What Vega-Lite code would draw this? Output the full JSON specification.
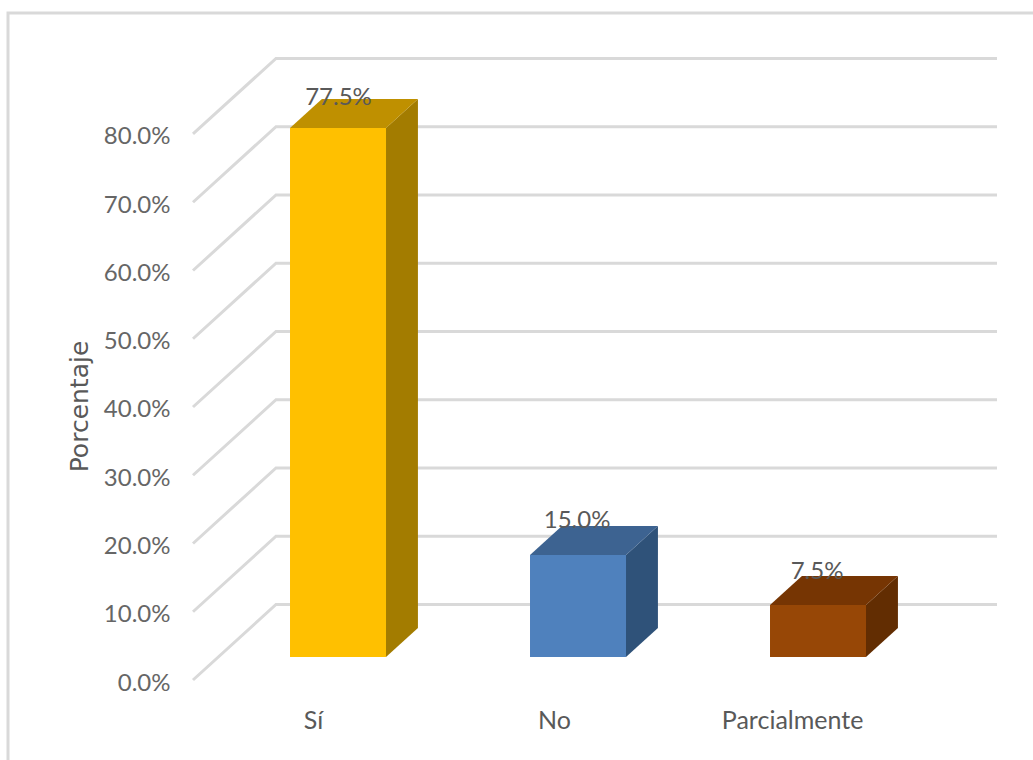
{
"$schema":"https://vega.github.io/schema/vega-lite/v6.json",
"width":804,"height":660,
"autosize":{"type":"none"},
"padding":{"left":193,"top":40,"right":36,"bottom":60},
"background":"white",
"view":{"stroke":null},
"config":{"font":"Lato, sans-serif"},
"datasets":{
"frame":[{"x":-1.375,"x2":2.93,"y":97.73,"y2":-13.2}],
"grid":[
{"v":0,"x":-0.6042,"y":0},{"v":0,"x":-0.2583,"y":11.07},{"v":0,"x":2.7458,"y":11.07},
{"v":10,"x":-0.6042,"y":10},{"v":10,"x":-0.2583,"y":21.07},{"v":10,"x":2.7458,"y":21.07},
{"v":20,"x":-0.6042,"y":20},{"v":20,"x":-0.2583,"y":31.07},{"v":20,"x":2.7458,"y":31.07},
{"v":30,"x":-0.6042,"y":30},{"v":30,"x":-0.2583,"y":41.07},{"v":30,"x":2.7458,"y":41.07},
{"v":40,"x":-0.6042,"y":40},{"v":40,"x":-0.2583,"y":51.07},{"v":40,"x":2.7458,"y":51.07},
{"v":50,"x":-0.6042,"y":50},{"v":50,"x":-0.2583,"y":61.07},{"v":50,"x":2.7458,"y":61.07},
{"v":60,"x":-0.6042,"y":60},{"v":60,"x":-0.2583,"y":71.07},{"v":60,"x":2.7458,"y":71.07},
{"v":70,"x":-0.6042,"y":70},{"v":70,"x":-0.2583,"y":81.07},{"v":70,"x":2.7458,"y":81.07},
{"v":80,"x":-0.6042,"y":80},{"v":80,"x":-0.2583,"y":91.07},{"v":80,"x":2.7458,"y":91.07}
],
"front":[
{"part":"Sí front","x":-0.2,"x2":0.2,"y":80.88,"y2":3.37},
{"part":"No front","x":0.8,"x2":1.2,"y":18.31,"y2":3.37},
{"part":"Parcialmente front","x":1.8,"x2":2.2,"y":10.99,"y2":3.37}
],
"side":[
{"part":"Sí side","x":0.2,"y":80.88,"y2":3.37},{"part":"Sí side","x":0.333,"y":85.13,"y2":7.62},
{"part":"No side","x":1.2,"y":18.31,"y2":3.37},{"part":"No side","x":1.333,"y":22.56,"y2":7.62},
{"part":"Parcialmente side","x":2.2,"y":10.99,"y2":3.37},{"part":"Parcialmente side","x":2.333,"y":15.24,"y2":7.62}
],
"top":[
{"part":"Sí top","x":-0.2,"x2":0.2,"y":80.88},{"part":"Sí top","x":-0.067,"x2":0.333,"y":85.13},
{"part":"No top","x":0.8,"x2":1.2,"y":18.31},{"part":"No top","x":0.933,"x2":1.333,"y":22.56},
{"part":"Parcialmente top","x":1.8,"x2":2.2,"y":10.99},{"part":"Parcialmente top","x":1.933,"x2":2.333,"y":15.24}
],
"labels":[
{"categoria":"Sí","porcentaje":"77.5%","x":0.002,"y":85.2},
{"categoria":"No","porcentaje":"15.0%","x":0.996,"y":23.24},
{"categoria":"Parcialmente","porcentaje":"7.5%","x":1.996,"y":15.77}
]
},
"layer":[
{"data":{"name":"frame"},"mark":{"type":"rect","fill":null,"fillOpacity":0,"stroke":"#D9D9D9","strokeWidth":3},
"encoding":{
"x":{"field":"x","type":"quantitative","scale":{"domain":[-0.6042,2.7458],"nice":false,"zero":false},
"axis":{"title":null,"domain":false,"ticks":false,"grid":false,"values":[-0.104,0.9,1.892],"labelExpr":"datum.value<0.5?'Sí':(datum.value<1.5?'No':'Parcialmente')","labelFont":"Lato","labelFontSize":25,"labelColor":"#595959","labelPadding":8,"labelAngle":0,"labelOverlap":false,"labelFlush":false}},
"x2":{"field":"x2"},
"y":{"field":"y","type":"quantitative","scale":{"domain":[-2.93,93.77],"nice":false,"zero":false},
"axis":{"title":"Porcentaje","titleFont":"DejaVu Sans","titleFontWeight":"normal","titleFontSize":25,"titleColor":"#595959","titleX":-114,"titleY":366,"titleAngle":-90,"titleAlign":"center","titleBaseline":"middle","domain":false,"ticks":false,"grid":false,"values":[0,10,20,30,40,50,60,70,80],"labelExpr":"format(datum.value,'.1f')+'%'","labelFont":"Lato","labelFontSize":24,"labelColor":"#666666","labelPadding":23,"labelOffset":3,"labelOverlap":false,"labelFlush":false}},
"y2":{"field":"y2"}}},
{"data":{"name":"grid"},"mark":{"type":"line","stroke":"#D9D9D9","strokeWidth":3},
"encoding":{"x":{"field":"x","type":"quantitative"},"y":{"field":"y","type":"quantitative"},"detail":{"field":"v"},"order":{"field":"x"}}},
{"data":{"name":"side"},"mark":{"type":"area","orient":"vertical"},
"encoding":{"x":{"field":"x","type":"quantitative"},"y":{"field":"y","type":"quantitative"},"y2":{"field":"y2"},"color":{"field":"part","type":"nominal","legend":null,"scale":{"domain":["Sí front","Sí top","Sí side","No front","No top","No side","Parcialmente front","Parcialmente top","Parcialmente side"],"range":["#FFC000","#BF9000","#A37C00","#4F81BD","#3D6391","#2F5279","#974706","#763503","#622D02"]}}}},
{"data":{"name":"top"},"mark":{"type":"area","orient":"horizontal"},
"encoding":{"y":{"field":"y","type":"quantitative"},"x":{"field":"x","type":"quantitative"},"x2":{"field":"x2"},"color":{"field":"part","type":"nominal","legend":null}}},
{"data":{"name":"front"},"mark":{"type":"rect"},
"encoding":{"x":{"field":"x","type":"quantitative"},"x2":{"field":"x2"},"y":{"field":"y","type":"quantitative"},"y2":{"field":"y2"},"color":{"field":"part","type":"nominal","legend":null}}},
{"data":{"name":"labels"},"mark":{"type":"text","font":"Lato","fontSize":24,"color":"#595959","align":"center","baseline":"middle"},
"encoding":{"x":{"field":"x","type":"quantitative"},"y":{"field":"y","type":"quantitative"},"text":{"field":"porcentaje"}}}
]
}
